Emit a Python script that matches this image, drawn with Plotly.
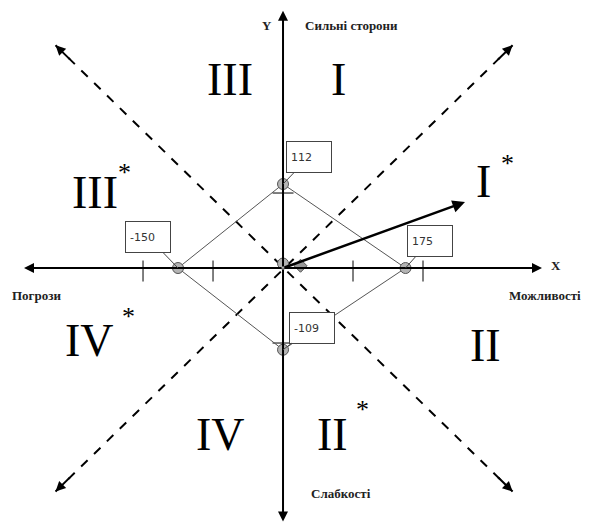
import plotly.graph_objects as go

# Оцінки SWOT-факторів
strengths = 112
opportunities = 175
weaknesses = -109
threats = -150

point_x = [threats, 0, opportunities, 0]
point_y = [0, strengths, 0, weaknesses]

# результуючий вектор
resultant = [opportunities + threats, strengths + weaknesses]
vector_end = [260, 88]

x_ticks = [-200, -100, 100, 200]
y_ticks = [-100, 100]

quadrants = ['III', 'I', 'III', 'I', 'IV', 'II', 'IV', 'II']
quadrant_star = [None, None, (-226, 128), (321, 140), (-221, -65), None, None, (113, -189)]

fig = go.Figure()

# діагональні пунктирні лінії
diag_ends = [(-325, 297, 328, -298), (328, 297, -325, -298)]
for x0, y0, x1, y1 in diag_ends:
    fig.add_scatter(x=[x0, x1], y=[y0, y1], mode='lines',
                    line=dict(color='black', width=2, dash='dash'), hoverinfo='skip')
    for tx, ty in [(x0, y0), (x1, y1)]:
        fig.add_annotation(x=tx, y=ty, ax=tx * 0.93, ay=ty * 0.93, axref='x', ayref='y',
                           text='', showarrow=True, arrowhead=2, arrowsize=1,
                           arrowwidth=2, arrowcolor='black')

# осі X та Y зі стрілками
for tx, ty in [(-370, 0), (370, 0), (0, 343), (0, -338)]:
    fig.add_annotation(x=tx, y=ty, ax=0, ay=0, axref='x', ayref='y',
                       text='', showarrow=True, arrowhead=2, arrowsize=1,
                       arrowwidth=2, arrowcolor='black')

# поділки
fig.add_scatter(x=x_ticks, y=[-4] * len(x_ticks), mode='markers',
                marker=dict(symbol='line-ns', size=15, line=dict(color='black', width=1)),
                hoverinfo='skip')
fig.add_scatter(x=[0] * len(y_ticks), y=y_ticks, mode='markers',
                marker=dict(symbol='line-ew', size=15, line=dict(color='black', width=1)),
                hoverinfo='skip')

# ромб між точками
fig.add_scatter(x=point_x + [point_x[0]], y=point_y + [point_y[0]], mode='lines',
                line=dict(color='#555555', width=1), hoverinfo='skip')

# вектор до I*
fig.add_annotation(x=vector_end[0], y=vector_end[1], ax=0, ay=0, axref='x', ayref='y',
                   text='', showarrow=True, arrowhead=2, arrowsize=1,
                   arrowwidth=2.5, arrowcolor='black')

fig.add_scatter(x=point_x + [0], y=point_y + [6], mode='markers',
                marker=dict(size=11, color='#b4b4b4', line=dict(color='#555555', width=1)),
                hoverinfo='skip')
fig.add_scatter(x=[resultant[0]], y=[resultant[1]], mode='markers',
                marker=dict(symbol='diamond', size=10, color='#999999',
                            line=dict(color='#555555', width=1)),
                hoverinfo='skip')

# виноски зі значеннями
offsets = [(-30, -31), (26, -27), (24, -27), (29, -22)]
for px_, py_, (dx, dy) in zip(point_x, point_y, offsets):
    val = px_ if px_ != 0 else py_
    fig.add_annotation(x=px_, y=py_, ax=dx, ay=dy, text=str(val),
                       font=dict(family='DejaVu Sans', size=11, color='#333333'),
                       showarrow=True, arrowhead=0, arrowwidth=1, arrowcolor='#444444',
                       bordercolor='#444444', borderwidth=1, bgcolor='white',
                       width=36, height=22, borderpad=4, align='left')

# римські цифри зон
quad_pos = [(-76, 251), (79, 251), (-269, 101), (286, 115),
            (-276, -96), (289, -103), (-90, -222), (70, -222)]
for name, star, (qx, qy) in zip(quadrants, quadrant_star, quad_pos):
    fig.add_annotation(x=qx, y=qy, text=name, showarrow=False,
                       font=dict(family='Liberation Serif', size=46, color='black'))
    if star:
        fig.add_annotation(x=star[0], y=star[1], text='*', showarrow=False,
                           font=dict(family='Liberation Serif', size=26, color='black'))

# підписи осей
labels = [('Y', -23, 324, 'center'), ('Сильні сторони', 29, 324, 'left'),
          ('X', 390, 4, 'center'), ('Погрози', -390, -36, 'left'),
          ('Можливості', 320, -36, 'left'), ('Слабкості', 37, -300, 'left')]
for txt, lx, ly, anchor in labels:
    fig.add_annotation(x=lx, y=ly, text='<b>' + txt + '</b>', showarrow=False, xanchor=anchor,
                       font=dict(family='Liberation Serif', size=13, color='#222222'))

# сторінка має відступ 8 px, тому початок координат зміщено
fig.update_layout(
    width=597, height=522, margin=dict(l=0, r=0, t=0, b=0),
    plot_bgcolor='white', paper_bgcolor='white', showlegend=False,
    xaxis=dict(visible=False, range=[-392.9, 460.0]),
    yaxis=dict(visible=False, range=[-349.3, 346.7]),
)

fig.write_html("out.html")
